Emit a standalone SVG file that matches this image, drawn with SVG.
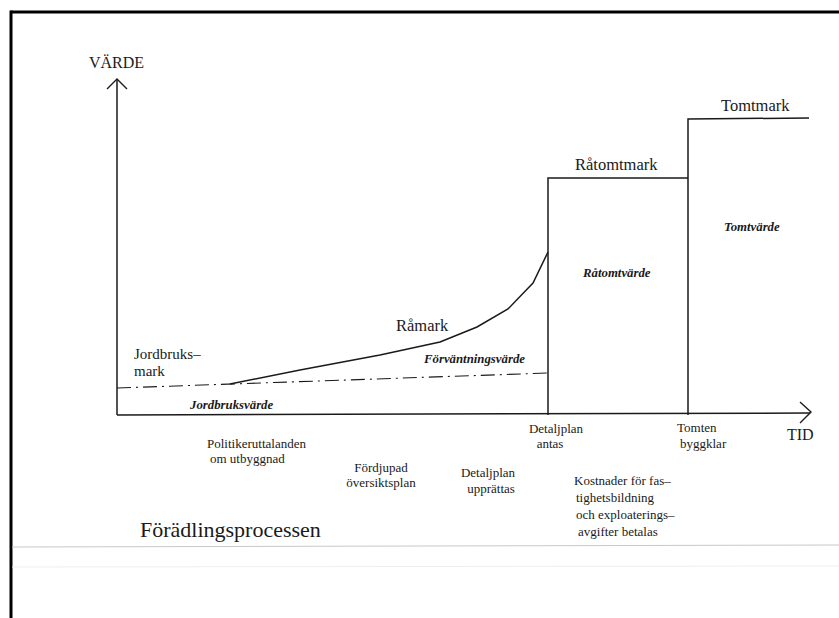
<svg xmlns="http://www.w3.org/2000/svg" width="839" height="618" viewBox="0 0 839 618">
<style>
text{font-family:"Liberation Serif","Times New Roman",serif;fill:#1a1a1a}
.s{font-size:13px}
.l{font-size:16.5px}
.i{font-size:12.8px;font-style:italic;font-weight:bold}
.ln{fill:none;stroke:#1a1a1a;stroke-width:1.5}
.ar{fill:none;stroke:#1a1a1a;stroke-width:1.4}
</style>
<rect x="0" y="0" width="839" height="618" fill="#fff"/>
<g id="frame">
<line x1="10.5" y1="12" x2="839" y2="12" stroke="#000" stroke-width="3"/>
<line x1="11" y1="10.5" x2="11" y2="618" stroke="#000" stroke-width="3"/>
<line x1="12" y1="547" x2="839" y2="545" stroke="#c8c8c8" stroke-width="1"/>
<line x1="12" y1="567" x2="839" y2="566" stroke="#eeeeee" stroke-width="1"/>
</g>
<g id="connectors">
<line class="ln" x1="117" y1="415" x2="117" y2="80"/>
<polyline class="ar" points="107,89 117,79 127,89"/>
<line class="ln" x1="117" y1="415" x2="810" y2="413"/>
<polyline class="ar" points="800,402 811,412 800,423"/>
<line x1="117" y1="388" x2="548" y2="373" stroke="#1a1a1a" stroke-width="1.1" stroke-dasharray="14,5,2,5"/>
<polyline class="ln" points="230,384 300,370 380,355 440,342 477,327 508,309 533,283 548,252"/>
<polyline class="ln" points="548,415 548,178 688,178"/>
<polyline class="ln" points="688,415 688,119 809,118"/>
</g>
<g id="axis-labels">
<text x="89" y="68" style="font-size:16px">VÄRDE</text>
<text x="787" y="440" style="font-size:16px">TID</text>
</g>
<g id="jordbruksmark">
<text x="134" y="359" style="font-size:15px">Jordbruks–</text>
<text x="134" y="376" style="font-size:15px">mark</text>
<text class="i" x="190" y="409">Jordbruksvärde</text>
</g>
<g id="ramark">
<text class="l" x="396" y="331">Råmark</text>
<text class="i" x="424" y="363">Förväntningsvärde</text>
</g>
<g id="ratomtmark">
<text class="l" x="575" y="170">Råtomtmark</text>
<text class="i" x="583" y="277">Råtomtvärde</text>
</g>
<g id="tomtmark">
<text class="l" x="721" y="111">Tomtmark</text>
<text class="i" x="724" y="231">Tomtvärde</text>
</g>
<g id="events">
<text class="s" x="207" y="448">Politikeruttalanden</text>
<text class="s" x="210" y="463">om utbyggnad</text>
<text class="s" x="381" y="472" text-anchor="middle">Fördjupad</text>
<text class="s" x="381" y="487" text-anchor="middle">översiktsplan</text>
<text class="s" x="488" y="477" text-anchor="middle">Detaljplan</text>
<text class="s" x="491" y="493" text-anchor="middle">upprättas</text>
<text class="s" x="556" y="433" text-anchor="middle">Detaljplan</text>
<text class="s" x="550" y="448" text-anchor="middle">antas</text>
<text class="s" x="677" y="432">Tomten</text>
<text class="s" x="680" y="448">byggklar</text>
<text class="s" x="574" y="485">Kostnader för fas–</text>
<text class="s" x="576" y="502">tighetsbildning</text>
<text class="s" x="576" y="519">och exploaterings–</text>
<text class="s" x="578" y="536">avgifter betalas</text>
</g>
<g id="title">
<text x="140" y="537" style="font-size:22px">Förädlingsprocessen</text>
</g>
</svg>
